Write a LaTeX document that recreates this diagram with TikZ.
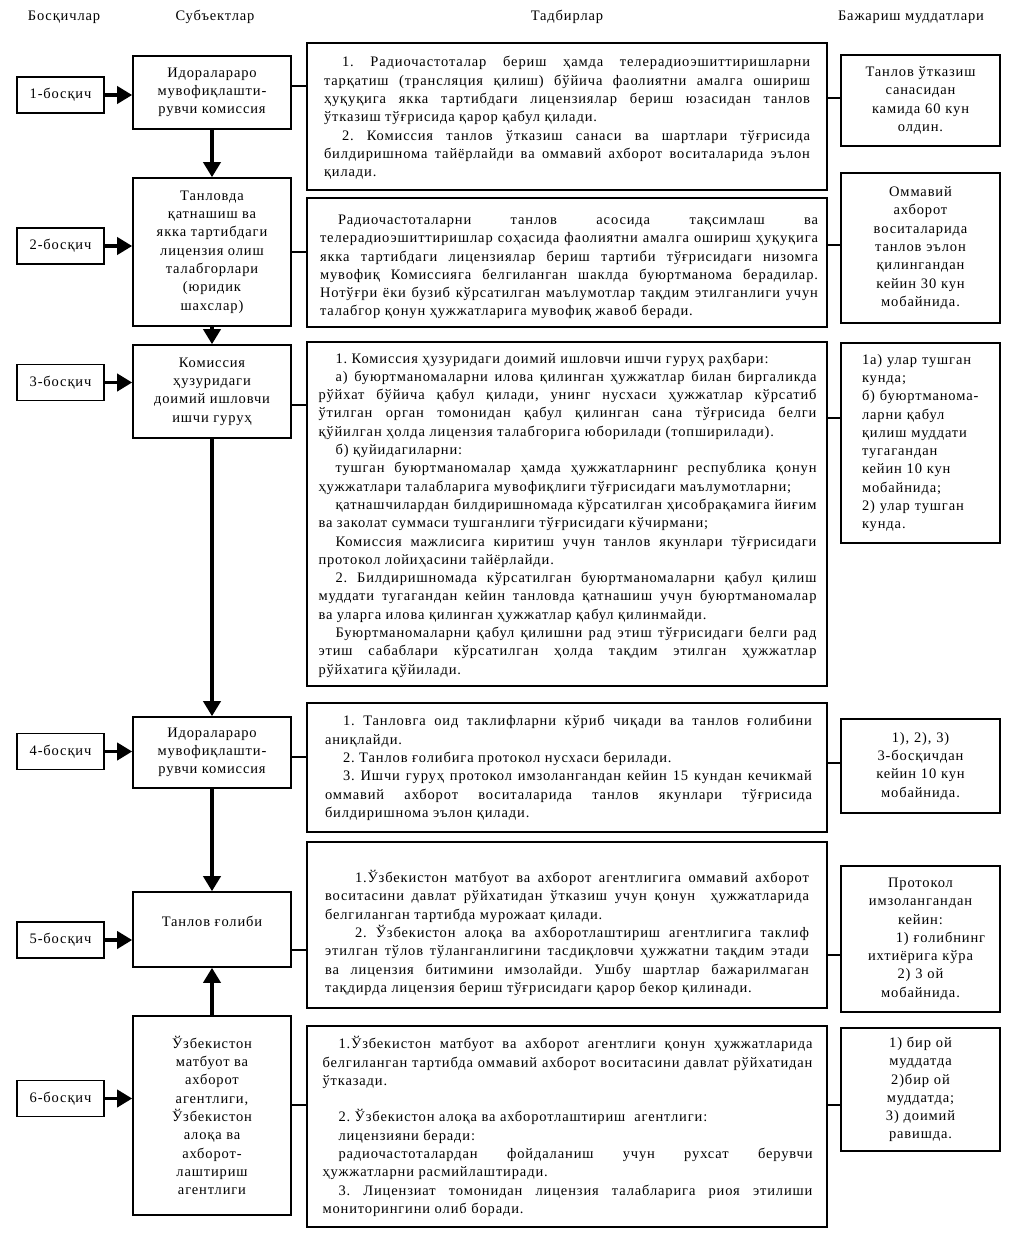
\documentclass[tikz,border=0pt]{standalone}
\usepackage{fontspec}
\setmainfont[LetterSpace=6]{Liberation Serif}
\usetikzlibrary{arrows.meta,calc}
\newcommand\bodyfont{\fontsize{14.5}{18.3}\selectfont\frenchspacing\tolerance=9999\emergencystretch=0pt\hbadness=10000}
\tikzset{
  box/.style={draw, line width=1.6pt, inner sep=0pt, align=center, font=\bodyfont},
  stagebox/.style={box, minimum width=87pt, minimum height=36pt},
  subj/.style={box, minimum width=158pt},
  act/.style={draw, line width=1.6pt, inner sep=0pt, minimum width=520pt},
  acttext/.style={inner sep=0pt, font=\bodyfont, align=justify},
  term/.style={box, minimum width=159pt, text width=152pt},
  txtnode/.style={inner sep=0pt, font=\bodyfont, align=center},
  arr/.style={line width=3.6pt, -{Triangle[length=15pt,width=17pt]}},
  conn/.style={line width=1.6pt},
  hdr/.style={inner sep=0pt, font=\bodyfont}
}
\begin{document}
\begin{tikzpicture}[x=1pt,y=-1pt]
\useasboundingbox (0,0) rectangle (1026,1250);
% headers
\node[hdr] (h1) at (64,17) {Босқичлар};
\node[hdr] (h2) at (215,17) {Субъектлар};
\node[hdr] (h3) at (567,17) {Тадбирлар};
\node[hdr] (h4) at (911,17) {Бажариш муддатлари};
% stages
\node[stagebox] (b1) at (60.5,95) {1-босқич};
\node[stagebox] (b2) at (60.5,246) {2-босқич};
\node[stagebox] (b3) at (60.5,382.5) {3-босқич};
\node[stagebox] (b4) at (60.5,751.5) {4-босқич};
\node[stagebox] (b5) at (60.5,940) {5-босқич};
\node[stagebox] (b6) at (60.5,1098.5) {6-босқич};
% subjects
\node[subj, minimum height=73pt] (s1) at (212,92.5) {Идоралараро\\мувофиқлашти-\\рувчи комиссия};
\node[subj, minimum height=148pt] (s2) at (212,252) {Танловда\\қатнашиш ва\\якка тартибдаги\\лицензия олиш\\талабгорлари\\(юридик\\шахслар)};
\node[subj, minimum height=93pt] (s3) at (212,391.5) {Комиссия\\ҳузуридаги\\доимий ишловчи\\ишчи гуруҳ};
\node[subj, minimum height=71pt] (s4) at (212,752.5) {Идоралараро\\мувофиқлашти-\\рувчи комиссия};
\node[subj, minimum height=75pt] (s5) at (212,929.5) {};
\node[txtnode] (s5t) at (212,921) {Танлов ғолиби};
\node[subj, minimum height=199pt] (s6) at (212,1115.5) {Ўзбекистон\\матбуот ва\\ахборот\\агентлиги,\\Ўзбекистон\\алоқа ва\\ахборот-\\лаштириш\\агентлиги};
% actions
\node[act, minimum height=147pt] (a1) at (567,116.5) {};
\node[acttext, text width=486pt] (a1t) at (567,118) {\hspace*{18pt}1. Радиочастоталар бериш ҳамда телерадиоэшиттиришларни\linebreak тарқатиш (трансляция қилиш) бўйича фаолиятни амалга ошириш\linebreak ҳуқуқига якка тартибдаги лицензиялар бериш юзасидан танлов\linebreak ўтказиш тўғрисида қарор қабул қилади.\par
\hspace*{18pt}2. Комиссия танлов ўтказиш санаси ва шартлари тўғрисида\linebreak билдиришнома тайёрлайди ва оммавий ахборот воситаларида эълон\linebreak қилади.};
\node[act, minimum height=129pt] (a2) at (567,262.5) {};
\node[acttext, text width=498pt] (a2t) at (569,267) {\hspace*{18pt}Радиочастоталарни танлов асосида тақсимлаш ва\linebreak телерадиоэшиттиришлар соҳасида фаолиятни амалга ошириш ҳуқуқига\linebreak якка тартибдаги лицензиялар бериш тартиби тўғрисидаги низомга\linebreak мувофиқ Комиссияга белгиланган шаклда буюртманома берадилар.\linebreak Нотўғри ёки бузиб кўрсатилган маълумотлар тақдим этилганлиги учун\linebreak талабгор қонун ҳужжатларига мувофиқ жавоб беради.};
\node[act, minimum height=344pt] (a3) at (567,514) {};
\node[acttext, text width=498pt] (a3t) at (567.5,515) {\hspace*{17pt}1. Комиссия ҳузуридаги доимий ишловчи ишчи гуруҳ раҳбари:\par
\hspace*{17pt}а) буюртманомаларни илова қилинган ҳужжатлар билан биргаликда\linebreak рўйхат бўйича қабул қилади, унинг нусхаси ҳужжатлар кўрсатиб\linebreak ўтилган орган томонидан қабул қилинган сана тўғрисида белги\linebreak қўйилган ҳолда лицензия талабгорига юборилади (топширилади).\par
\hspace*{17pt}б) қуйидагиларни:\par
\hspace*{17pt}тушган буюртманомалар ҳамда ҳужжатларнинг республика қонун\linebreak ҳужжатлари талабларига мувофиқлиги тўғрисидаги маълумотларни;\par
\hspace*{17pt}қатнашчилардан билдиришномада кўрсатилган ҳисобрақамига йиғим\linebreak ва заколат суммаси тушганлиги тўғрисидаги кўчирмани;\par
\hspace*{17pt}Комиссия мажлисига киритиш учун танлов якунлари тўғрисидаги\linebreak протокол лойиҳасини тайёрлайди.\par
\hspace*{17pt}2. Билдиришномада кўрсатилган буюртманомаларни қабул қилиш\linebreak муддати тугагандан кейин танловда қатнашиш учун буюртманомалар\linebreak ва уларга илова қилинган ҳужжатлар қабул қилинмайди.\par
\hspace*{17pt}Буюртманомаларни қабул қилишни рад этиш тўғрисидаги белги рад\linebreak этиш сабаблари кўрсатилган ҳолда тақдим этилган ҳужжатлар\linebreak рўйхатига қўйилади.};
\node[act, minimum height=129pt] (a4) at (567,767.5) {};
\node[acttext, text width=487pt] (a4t) at (568.5,768) {\hspace*{18pt}1. Танловга оид таклифларни кўриб чиқади ва танлов ғолибини\linebreak аниқлайди.\par
\hspace*{18pt}2. Танлов ғолибига протокол нусхаси берилади.\par
\hspace*{18pt}3. Ишчи гуруҳ протокол имзолангандан кейин 15 кундан кечикмай\linebreak оммавий ахборот воситаларида танлов якунлари тўғрисида\linebreak билдиришнома эълон қилади.};
\node[act, minimum height=166pt] (a5) at (567,925) {};
\node[acttext, text width=484pt] (a5t) at (567,933) {\hspace*{30pt}1.Ўзбекистон матбуот ва ахборот агентлигига оммавий ахборот\linebreak воситасини давлат рўйхатидан ўтказиш учун қонун \ ҳужжатларида\linebreak белгиланган тартибда мурожаат қилади.\par
\hspace*{30pt}2. Ўзбекистон алоқа ва ахборотлаштириш агентлигига таклиф\linebreak этилган тўлов тўланганлигини тасдиқловчи ҳужжатни тақдим этади\linebreak ва лицензия битимини имзолайди. Ушбу шартлар бажарилмаган\linebreak тақдирда лицензия бериш тўғрисидаги қарор бекор қилинади.};
\node[act, minimum height=201pt] (a6) at (567,1126.5) {};
\node[acttext, text width=490pt] (a6t) at (567.5,1126.5) {\hspace*{16pt}1.Ўзбекистон матбуот ва ахборот агентлиги қонун ҳужжатларида\linebreak белгиланган тартибда оммавий ахборот воситасини давлат рўйхатидан\linebreak ўтказади.\par
\mbox{}\par
\hspace*{16pt}2. Ўзбекистон алоқа ва ахборотлаштириш \ агентлиги:\par
\hspace*{16pt}лицензияни беради:\par
\hspace*{16pt}радиочастоталардан фойдаланиш учун рухсат берувчи\linebreak ҳужжатларни расмийлаштиради.\par
\hspace*{16pt}3. Лицензиат томонидан лицензия талабларига риоя этилиши\linebreak мониторингини олиб боради.};
% terms
\node[term, minimum height=91pt] (t1) at (920.5,100.5) {Танлов ўтказиш\\санасидан\\камида 60 кун\\олдин.};
\node[term, minimum height=150pt] (t2) at (920.5,248) {Оммавий\\ахборот\\воситаларида\\танлов эълон\\қилингандан\\кейин 30 кун\\мобайнида.};
\node[term, minimum height=200pt] (t3) at (920.5,443) {};
\node[txtnode, align=left, text width=134pt] (t3t) at (929,443) {1а) улар тушган\\кунда;\\б) буюртманома-\\ларни қабул\\қилиш муддати\\тугагандан\\кейин 10 кун\\мобайнида;\\2) улар тушган\\кунда.};
\node[term, minimum height=94pt] (t4) at (920.5,766) {1), 2), 3)\\3-босқичдан\\кейин 10 кун\\мобайнида.};
\node[term, minimum height=146pt] (t5) at (920.5,939) {Протокол\\имзолангандан\\кейин:\\\hspace*{40pt}1) ғолибнинг\\ихтиёрига кўра\\2) 3 ой\\мобайнида.};
\node[term, minimum height=123pt] (t6) at (920.5,1089.5) {1) бир ой\\муддатда\\2)бир ой\\муддатда;\\3) доимий\\равишда.};
% connector levels
\coordinate (l1) at (0,86);   \coordinate (r1) at (0,98);
\coordinate (l2) at (0,252);  \coordinate (r2) at (0,245);
\coordinate (l3) at (0,405);  \coordinate (r3) at (0,418);
\coordinate (l4) at (0,757);  \coordinate (r4) at (0,763);
\coordinate (l5) at (0,950);  \coordinate (r5) at (0,955);
\coordinate (l6) at (0,1105); \coordinate (r6) at (0,1105);
\foreach \i in {1,...,6}{
  \draw[conn] (s\i.east |- l\i) -- (a\i.west |- l\i);
  \draw[conn] (a\i.east |- r\i) -- (t\i.west |- r\i);
  \draw[arr] (b\i.east) -- (b\i.east -| s\i.west);
}
% vertical arrows
\draw[arr] (s1.south) -- (s2.north);
\draw[arr] (s2.south) -- (s3.north);
\draw[arr] (s3.south) -- (s4.north);
\draw[arr] (s4.south) -- (s5.north);
\draw[arr] (s6.north) -- (s5.south);
\end{tikzpicture}
\end{document}
